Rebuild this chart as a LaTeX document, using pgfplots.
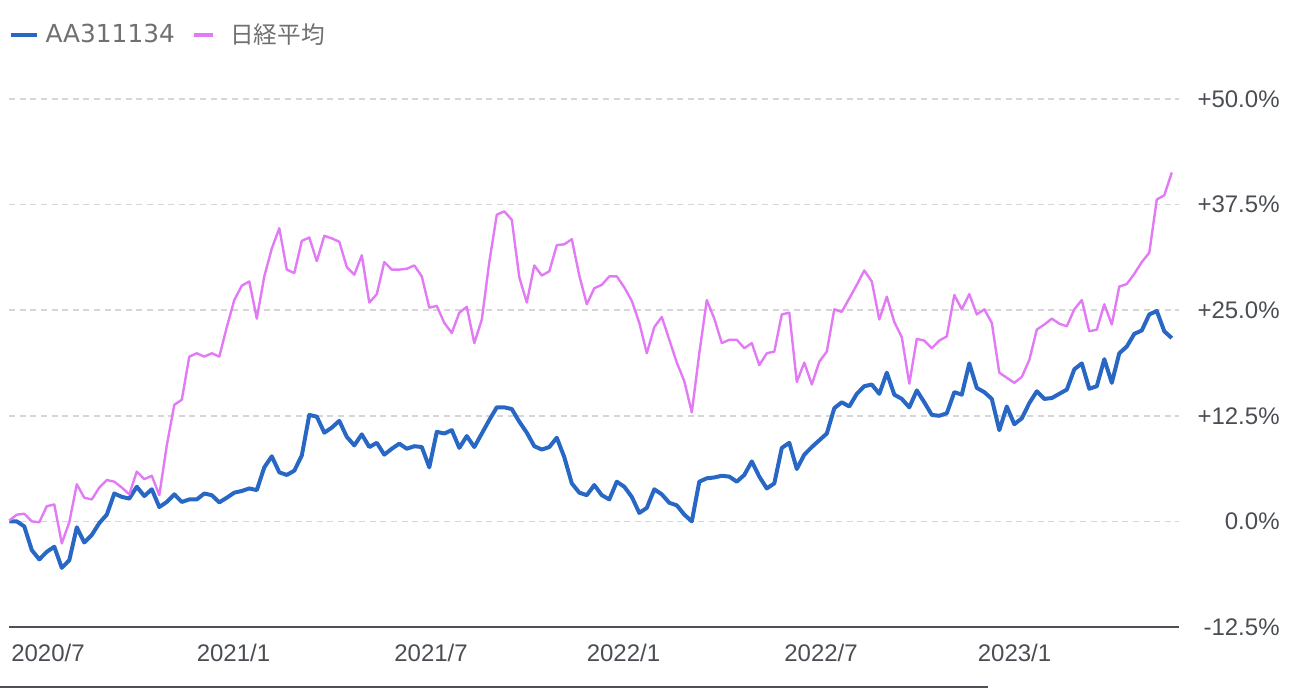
\documentclass[border=0pt]{standalone}
\usepackage{fontspec}
\setmainfont{Liberation Sans}
\newfontfamily\legfont{DejaVu Sans}
\newfontfamily\jpfont{Noto Sans CJK JP}
\usepackage{pgfplots}
\usepackage{pgfplotstable}
\pgfplotsset{compat=1.18}
\definecolor{fundblue}{RGB}{40,103,196}
\definecolor{nikkeipink}{RGB}{226,122,246}
\definecolor{gridgray}{RGB}{214,214,214}
\definecolor{axisgray}{RGB}{77,81,87}
\definecolor{labelgray}{RGB}{74,78,84}
\definecolor{leggray}{RGB}{112,112,112}
\pgfplotstableread{
i blue pink
0 0.0 0.1
1 0.0 0.8
2 -0.6 0.9
3 -3.4 0.0
4 -4.5 -0.1
5 -3.6 1.8
6 -3.0 2.0
7 -5.5 -2.6
8 -4.6 -0.1
9 -0.7 4.4
10 -2.5 2.8
11 -1.6 2.6
12 -0.2 4.0
13 0.8 4.9
14 3.3 4.7
15 2.9 4.0
16 2.7 3.2
17 4.1 5.9
18 3.0 5.0
19 3.8 5.4
20 1.7 3.1
21 2.3 9.0
22 3.2 13.8
23 2.3 14.4
24 2.6 19.5
25 2.6 19.9
26 3.3 19.5
27 3.1 19.9
28 2.25 19.5
29 2.8 23.0
30 3.4 26.2
31 3.6 27.9
32 3.9 28.4
33 3.7 24.0
34 6.4 29.0
35 7.7 32.3
36 5.8 34.7
37 5.5 29.8
38 6.0 29.4
39 7.8 33.2
40 12.6 33.6
41 12.4 30.8
42 10.5 33.8
43 11.1 33.5
44 11.9 33.1
45 10.0 30.1
46 9.0 29.2
47 10.3 31.5
48 8.8 25.9
49 9.3 26.9
50 7.9 30.7
51 8.6 29.8
52 9.2 29.8
53 8.6 29.9
54 8.9 30.3
55 8.8 29.0
56 6.4 25.3
57 10.6 25.5
58 10.4 23.5
59 10.8 22.3
60 8.7 24.7
61 10.1 25.4
62 8.8 21.1
63 10.4 23.9
64 12.0 30.7
65 13.5 36.3
66 13.5 36.7
67 13.3 35.7
68 11.8 28.9
69 10.5 25.9
70 8.9 30.3
71 8.5 29.1
72 8.8 29.6
73 9.9 32.7
74 7.6 32.8
75 4.5 33.4
76 3.4 29.1
77 3.1 25.7
78 4.3 27.6
79 3.1 28.0
80 2.6 29.0
81 4.7 29.0
82 4.1 27.7
83 2.9 26.1
84 1.0 23.5
85 1.6 19.9
86 3.8 23.0
87 3.2 24.2
88 2.2 21.5
89 1.9 18.8
90 0.8 16.6
91 0.0 12.9
92 4.7 19.9
93 5.1 26.2
94 5.2 24.0
95 5.4 21.1
96 5.3 21.5
97 4.7 21.5
98 5.5 20.5
99 7.1 21.1
100 5.3 18.5
101 3.9 19.9
102 4.5 20.1
103 8.7 24.5
104 9.3 24.7
105 6.2 16.5
106 7.9 18.8
107 8.8 16.2
108 9.6 18.9
109 10.4 20.1
110 13.4 25.1
111 14.1 24.8
112 13.6 26.4
113 15.1 28.0
114 16.0 29.7
115 16.2 28.4
116 15.1 23.9
117 17.6 26.6
118 15.0 23.6
119 14.5 21.8
120 13.5 16.3
121 15.5 21.6
122 14.1 21.4
123 12.6 20.5
124 12.5 21.4
125 12.8 21.9
126 15.3 26.8
127 15.0 25.1
128 18.7 26.9
129 15.8 24.5
130 15.3 25.1
131 14.5 23.5
132 10.8 17.6
133 13.6 17.0
134 11.5 16.4
135 12.2 17.1
136 14.0 19.1
137 15.4 22.7
138 14.5 23.3
139 14.6 24.0
140 15.1 23.4
141 15.6 23.1
142 18.0 25.1
143 18.7 26.2
144 15.7 22.5
145 16.0 22.7
146 19.2 25.7
147 16.4 23.3
148 19.9 27.8
149 20.7 28.1
150 22.2 29.3
151 22.6 30.7
152 24.5 31.8
153 24.9 38.1
154 22.5 38.6
155 21.7 41.3
}\data
\begin{document}
\begin{tikzpicture}[x=1pt,y=1pt]
\useasboundingbox (0,0) rectangle (654,344);
\begin{axis}[
  at={(4.65pt,30.5pt)}, anchor=south west,
  width=584.85pt, height=264pt, scale only axis,
  xmin=0, xmax=155.96, ymin=-12.5, ymax=50,
  clip=false,
  axis line style={draw=none},
  major tick length=0pt,
  ytick={0,12.5,25,37.5,50},
  yticklabels={0.0\%,+12.5\%,+25.0\%,+37.5\%,+50.0\%},
  extra y ticks={-12.5},
  extra y tick labels={-12.5\%},
  extra y tick style={major grid style={solid,draw=axisgray,line width=1pt}},
  ymajorgrids,
  major grid style={draw=gridgray,line width=0.8pt,dash pattern=on 3pt off 2.3pt},
  yticklabel pos=right,
  yticklabel style={anchor=east,inner sep=0pt,xshift=50.5pt,font=\fontsize{12}{14}\selectfont,text=labelgray},
  xtick={5.16,29.89,56.23,81.89,108.23,134.03},
  xticklabels={2020/7,2021/1,2021/7,2022/1,2022/7,2023/1},
  xticklabel style={anchor=base,inner sep=0pt,yshift=-17.5pt,font=\fontsize{12}{14}\selectfont,text=labelgray},
  legend columns=2,
  legend style={draw=none,fill=none,at={(0,1)},anchor=west,xshift=-0.15pt,yshift=32pt,
    inner sep=0pt,outer sep=0pt,nodes={inner sep=0pt,text=leggray},
    /tikz/every odd column/.append style={column sep=3.3pt},
    /tikz/every even column/.append style={column sep=9pt}},
]
\addplot[fundblue,line width=2pt,line join=round,
  legend image code/.code={\draw[fundblue,line width=2pt] (0pt,0pt) -- (13pt,0pt);}]
  table[x=i,y=blue]{\data};
\addlegendentry{\legfont\fontsize{12.4}{14}\selectfont AA311134}
\addplot[nikkeipink,line width=1.2pt,line join=round,
  legend image code/.code={\draw[nikkeipink,line width=1.6pt] (0pt,0pt) -- (9.5pt,0pt); \path (14pt,0pt);}]
  table[x=i,y=pink]{\data};
\addlegendentry{\jpfont\fontsize{11.8}{14}\selectfont 日経平均}
\end{axis}
\draw[axisgray,line width=1pt] (0,0.5) -- (494,0.5);
\end{tikzpicture}
\end{document}
